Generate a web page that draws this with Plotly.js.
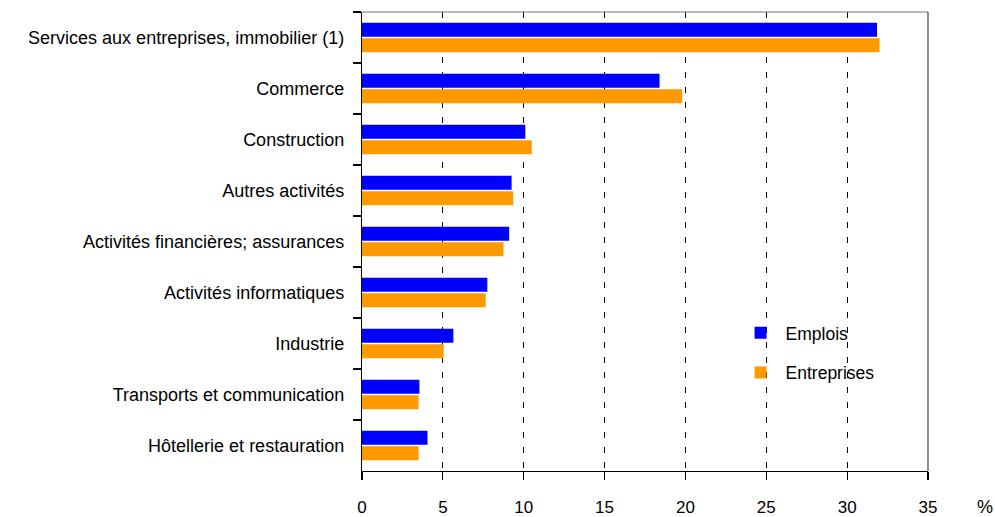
<!DOCTYPE html>
<html>
<head>
<meta charset="utf-8">
<script src="https://cdn.plot.ly/plotly-3.0.1.min.js"></script>
<style>html,body{margin:0;padding:0;background:#fff;}#chart{width:995px;height:517px;}</style>
</head>
<body>
<div id="chart"></div>
<script>
const categories = [
  "Services aux entreprises, immobilier (1)",
  "Commerce",
  "Construction",
  "Autres activités",
  "Activités financières; assurances",
  "Activités informatiques",
  "Industrie",
  "Transports et communication",
  "Hôtellerie et restauration"
];
const emplois =     [31.85, 18.4, 10.1, 9.25, 9.1, 7.75, 5.65, 3.55, 4.05];
const entreprises = [32.0, 19.8, 10.5, 9.35, 8.75, 7.65, 5.05, 3.5, 3.5];
const seriesNames = ["Emplois", "Entreprises"];
const xTicks = [0, 5, 10, 15, 20, 25, 30, 35];

const fam = "'Liberation Sans', Arial, sans-serif";

const data = [
  {type: "bar", orientation: "h", name: seriesNames[0], y: categories, x: emplois,
   marker: {color: "#0000FF"}, legendgroup: "a", hoverinfo: "x+y"},
  {type: "bar", orientation: "h", name: seriesNames[1], y: categories, x: entreprises,
   marker: {color: "#FF9900"}, legendgroup: "b", hoverinfo: "x+y"}
];

const layout = {
  width: 995, height: 517,
  margin: {l: 362, r: 67, t: 12, b: 46},
  paper_bgcolor: "#fff", plot_bgcolor: "#fff",
  font: {family: fam, size: 17, color: "#000"},
  barmode: "group",
  bargap: 0.39,
  bargroupgap: 0.1,
  showlegend: true,
  legend: {x: 0.66, y: 0.34, xanchor: "left", yanchor: "top", itemwidth: 40,
           bgcolor: "rgba(0,0,0,0)", font: {family: fam, size: 17.5, color: "#000"},
           traceorder: "grouped", tracegroupgap: 14},
  xaxis: {
    range: [0, 35], tickvals: xTicks, ticktext: xTicks.map(String),
    showline: true, linecolor: "#000", linewidth: 1.2,
    ticks: "outside", ticklen: 8, tickcolor: "#000", tickwidth: 1.2,
    showgrid: true, gridcolor: "#000", gridwidth: 1.2, griddash: "6px,9px",
    zeroline: false, ticklabelstandoff: 12, automargin: false,
    tickfont: {family: fam, size: 17, color: "#000"}, fixedrange: true
  },
  yaxis: {
    type: "category", autorange: "reversed",
    showline: true, linecolor: "#000", linewidth: 1.2,
    ticks: "outside", tickson: "boundaries", ticklen: 8, tickcolor: "#000", tickwidth: 1.2,
    showgrid: false, zeroline: false, automargin: false, ticklabelstandoff: 13,
    tickfont: {family: fam, size: 18, color: "#000"}, fixedrange: true
  },
  shapes: [
    {type: "line", xref: "paper", yref: "paper", x0: 0, x1: 1, y0: 1, y1: 1,
     line: {color: "#777", width: 1.2}},
    {type: "line", xref: "paper", yref: "paper", x0: 1, x1: 1, y0: 0, y1: 1,
     line: {color: "#444", width: 1.2}}
  ],
  annotations: [
    {text: "%", xref: "paper", yref: "paper", x: 1.1, y: -0.078,
     xanchor: "center", yanchor: "middle", showarrow: false,
     font: {family: fam, size: 18, color: "#000"}}
  ]
};

Plotly.newPlot("chart", data, layout, {displayModeBar: false, staticPlot: true});
</script>
</body>
</html>
